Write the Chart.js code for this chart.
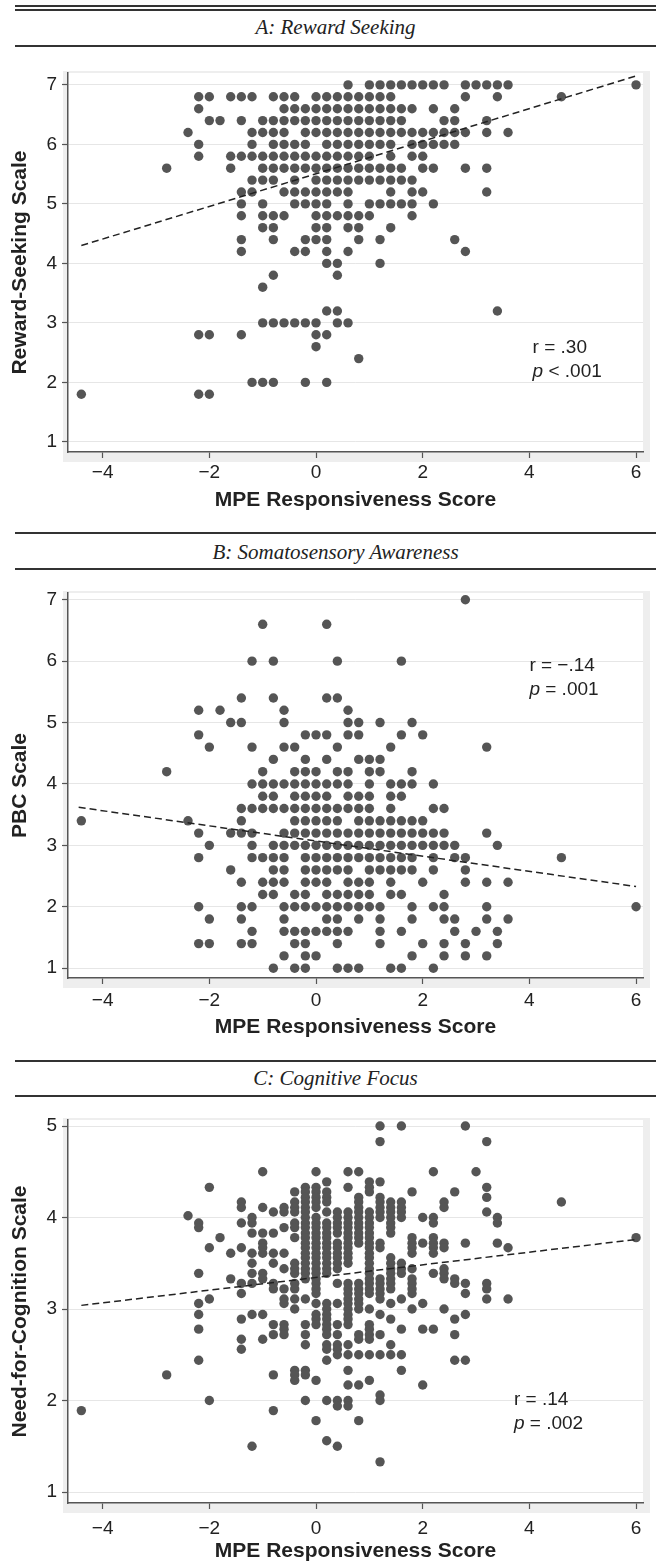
<!DOCTYPE html>
<html>
<head>
<meta charset="utf-8">
<script src="https://cdn.jsdelivr.net/npm/chart.js@4/dist/chart.umd.min.js"></script>
<style>
  body { margin: 0; background: #fff; }
  #page { position: relative; width: 656px; height: 1564px; overflow: hidden; background: #fff; }
  .rule { position: absolute; left: 15px; right: 0; height: 2px; background: #333; }
  .title { position: absolute; left: 15px; right: 0; height: 24px; line-height: 24px; text-align: center;
           font: italic 21px 'Liberation Serif', 'Times New Roman', serif; color: #222; }
  canvas { position: absolute; left: 0; }
</style>
</head>
<body>
<div id="page">
  <div class="rule" style="top:5px"></div>
  <div class="rule" style="top:9px"></div>
  <div class="title" style="top:15px">A: Reward Seeking</div>
  <div class="rule" style="top:45px"></div>
  <canvas id="chartA" width="656" height="463" style="top:50px"></canvas>

  <div class="rule" style="top:532px"></div>
  <div class="title" style="top:540px">B: Somatosensory Awareness</div>
  <div class="rule" style="top:568px"></div>
  <canvas id="chartB" width="656" height="465" style="top:575px"></canvas>

  <div class="rule" style="top:1060px"></div>
  <div class="title" style="top:1066px">C: Cognitive Focus</div>
  <div class="rule" style="top:1095px"></div>
  <canvas id="chartC" width="656" height="464" style="top:1100px"></canvas>
</div>
<script>
const xTicks = [-4, -2, 0, 2, 4, 6];

// A: reward seeking, one list of MPE scores per scale level
const rewardLevels = [7.0, 6.8, 6.6, 6.4, 6.2, 6.0, 5.8, 5.6, 5.4, 5.2, 5.0, 4.8, 4.6, 4.4, 4.2, 4.0, 3.8, 3.6, 3.2, 3.0, 2.8, 2.6, 2.4, 2.0, 1.8];
const rewardX = [
  [0.6, 1.0, 1.2, 1.4, 1.6, 1.8, 2.0, 2.2, 2.4, 2.8, 3.0, 3.2, 3.4, 3.6, 6.0],
  [-2.2, -2.0, -1.6, -1.4, -1.2, -0.8, -0.6, -0.4, 0.0, 0.2, 0.4, 0.6, 0.8, 1.0, 1.2, 1.4, 2.8, 3.4, 4.6],
  [-2.2, -0.6, -0.4, -0.2, 0.0, 0.2, 0.4, 0.6, 0.8, 1.0, 1.2, 1.4, 1.6, 1.8, 2.2, 2.6],
  [-2.0, -1.8, -1.4, -1.0, -0.8, -0.6, -0.4, -0.2, 0.0, 0.2, 0.4, 0.6, 0.8, 1.0, 1.2, 1.4, 1.6, 2.4, 2.6, 3.2],
  [-2.4, -1.2, -1.0, -0.8, -0.6, -0.2, 0.0, 0.2, 0.4, 0.6, 0.8, 1.0, 1.2, 1.4, 1.6, 1.8, 2.0, 2.2, 2.4, 2.6, 2.8, 3.2, 3.6],
  [-2.2, -1.2, -0.8, -0.6, -0.4, -0.2, 0.2, 0.4, 0.6, 0.8, 1.0, 1.2, 1.4, 1.8, 2.0, 2.2, 2.4, 2.6],
  [-2.2, -1.6, -1.4, -1.2, -1.0, -0.8, -0.6, -0.4, -0.2, 0.0, 0.2, 0.4, 0.6, 0.8, 1.0, 1.4, 1.8, 2.0],
  [-2.8, -1.6, -1.0, -0.8, -0.6, -0.4, -0.2, 0.0, 0.2, 0.4, 0.6, 0.8, 1.0, 1.2, 1.4, 1.6, 2.0, 2.2, 2.8, 3.2],
  [-1.2, -1.0, -0.8, -0.4, 0.0, 0.2, 0.4, 0.6, 0.8, 1.0, 1.2, 1.4, 1.6, 1.8],
  [-1.4, -1.2, -0.6, -0.4, -0.2, 0.0, 0.2, 0.4, 0.6, 1.4, 1.8, 2.0, 3.2],
  [-1.4, -1.0, -0.4, -0.2, 0.0, 0.2, 0.6, 1.0, 1.2, 1.4, 1.6, 1.8, 2.2],
  [-1.4, -1.0, -0.8, -0.6, 0.0, 0.2, 0.4, 0.6, 0.8, 1.0, 1.8],
  [-1.0, -0.8, 0.0, 0.2, 0.6, 0.8, 1.4],
  [-1.4, -0.8, -0.2, 0.0, 0.2, 0.8, 1.2, 2.6],
  [-1.4, -0.4, -0.2, 0.2, 0.6, 2.8],
  [0.2, 0.4, 1.2],
  [-0.8, 0.4],
  [-1.0],
  [0.2, 0.4, 3.4],
  [-1.0, -0.8, -0.6, -0.4, -0.2, 0.0, 0.4, 0.6],
  [-2.2, -2.0, -1.4, 0.0, 0.2],
  [0.0],
  [0.8],
  [-1.2, -1.0, -0.8, -0.2, 0.2],
  [-4.4, -2.2, -2.0]
];
const rewardFitX = [-4.4, 6.0];
const rewardFitY = [4.30, 7.15];
const rewardTicks = [1, 2, 3, 4, 5, 6, 7];

// B: PBC scale
const pbcLevels = [7.0, 6.6, 6.0, 5.4, 5.2, 5.0, 4.8, 4.6, 4.4, 4.2, 4.0, 3.8, 3.6, 3.4, 3.2, 3.0, 2.8, 2.6, 2.4, 2.2, 2.0, 1.8, 1.6, 1.4, 1.2, 1.0];
const pbcX = [
  [2.8],
  [-1.0, 0.2],
  [-1.2, -0.8, 0.4, 1.6],
  [-1.4, -0.8, 0.2, 0.4],
  [-2.2, -1.8, -0.6, 0.6],
  [-1.6, -1.4, -0.6, 0.6, 0.8, 1.2, 1.8],
  [-2.2, -0.2, 0.0, 0.2, 0.6, 0.8, 1.6, 2.0],
  [-2.0, -1.2, -0.6, -0.4, 0.4, 1.4, 3.2],
  [-0.8, -0.2, 0.2, 0.8, 1.0, 1.2],
  [-2.8, -1.0, -0.4, -0.2, 0.0, 0.4, 0.6, 1.0, 1.2, 1.8],
  [-1.2, -1.0, -0.8, -0.6, -0.4, -0.2, 0.0, 0.2, 0.4, 0.6, 1.0, 1.4, 1.6, 1.8, 2.2],
  [-1.0, -0.8, -0.4, -0.2, 0.0, 0.2, 0.6, 0.8, 1.0, 1.4, 1.6],
  [-1.4, -1.2, -1.0, -0.8, -0.6, -0.4, -0.2, 0.0, 0.2, 0.4, 0.6, 0.8, 1.0, 1.4, 2.2, 2.4],
  [-4.4, -2.4, -1.4, -0.4, -0.2, 0.0, 0.2, 0.4, 0.8, 1.0, 1.2, 1.4, 1.6, 1.8, 2.0],
  [-2.2, -1.6, -1.4, -1.2, -0.6, -0.4, -0.2, 0.0, 0.2, 0.4, 0.6, 0.8, 1.0, 1.2, 1.4, 1.6, 1.8, 2.0, 2.2, 2.4, 3.2],
  [-2.0, -1.2, -0.8, -0.6, -0.4, -0.2, 0.0, 0.2, 0.4, 0.6, 0.8, 1.0, 1.2, 1.4, 1.6, 1.8, 2.0, 2.2, 2.4, 2.6, 3.4],
  [-2.2, -1.2, -1.0, -0.8, -0.6, -0.2, 0.0, 0.2, 0.4, 0.6, 0.8, 1.0, 1.2, 1.4, 1.6, 1.8, 2.2, 2.6, 2.8, 4.6],
  [-1.6, -0.8, -0.6, -0.2, 0.0, 0.2, 0.4, 0.6, 1.0, 1.2, 1.4, 1.6, 1.8, 2.2, 2.8],
  [-1.4, -1.0, -0.8, -0.6, -0.2, 0.0, 0.2, 0.6, 0.8, 1.0, 1.4, 2.0, 2.8, 3.2, 3.6],
  [-1.0, -0.8, -0.4, -0.2, 0.2, 0.4, 0.6, 0.8, 1.0, 1.4, 1.6, 2.4],
  [-2.2, -1.4, -1.2, -0.6, -0.4, -0.2, 0.0, 0.2, 0.4, 0.6, 0.8, 1.0, 1.2, 1.8, 2.2, 2.4, 3.2, 6.0],
  [-2.0, -1.4, -0.6, 0.2, 0.4, 0.8, 1.2, 1.8, 2.4, 2.6, 3.2, 3.6],
  [-1.2, -0.6, -0.4, -0.2, 0.0, 0.2, 0.4, 0.6, 1.2, 1.6, 2.6, 3.0, 3.4],
  [-2.2, -2.0, -1.4, -1.2, -0.4, -0.2, 0.4, 1.2, 2.0, 2.4, 2.8, 3.4],
  [-0.6, -0.2, 0.0, 1.8, 2.4, 2.8, 3.2],
  [-0.8, -0.4, -0.2, 0.4, 0.6, 0.8, 1.4, 1.6, 2.2]
];
const pbcFitX = [-4.45, 6.0];
const pbcFitY = [3.62, 2.33];
const pbcTicks = [1, 2, 3, 4, 5, 6, 7];

// C: need for cognition, one list of scale scores per MPE column
const cogX = [-4.4, -2.8, -2.4, -2.2, -2.0, -1.8, -1.6, -1.4, -1.2, -1.0, -0.8, -0.6, -0.4, -0.2, 0.0, 0.2, 0.4, 0.6, 0.8,
              1.0, 1.2, 1.4, 1.6, 1.8, 2.0, 2.2, 2.4, 2.6, 2.8, 3.0, 3.2, 3.4, 3.6, 4.6, 6.0];
const cogY = [
  [1.89],
  [2.28],
  [4.02],
  [3.94, 3.89, 3.39, 3.06, 2.94, 2.78, 2.44],
  [4.33, 3.67, 3.11, 2.0],
  [3.78],
  [3.61, 3.33],
  [4.17, 4.11, 3.94, 3.67, 3.28, 3.17, 2.89, 2.67, 2.56],
  [4.0, 3.94, 3.83, 3.61, 3.5, 3.39, 3.28, 2.94, 1.5],
  [4.5, 4.11, 3.83, 3.72, 3.67, 3.61, 3.39, 3.33, 2.94, 2.67],
  [4.06, 3.83, 3.61, 3.5, 3.28, 3.22, 2.83, 2.72, 2.28, 1.89],
  [4.11, 4.06, 3.89, 3.61, 3.44, 3.22, 3.11, 3.06, 2.83, 2.78, 2.72],
  [4.28, 4.17, 4.11, 4.06, 3.94, 3.89, 3.78, 3.5, 3.44, 3.39, 3.28, 3.22, 3.11, 3.0, 2.33, 2.28, 2.22],
  [4.33, 4.28, 4.22, 4.17, 4.11, 4.06, 4.0, 3.94, 3.89, 3.83, 3.78, 3.72, 3.67, 3.61, 3.56, 3.5, 3.44, 3.39, 3.33, 3.11, 2.83, 2.72, 2.61, 2.33, 2.28, 2.0],
  [4.5, 4.33, 4.28, 4.22, 4.17, 4.11, 4.0, 3.94, 3.89, 3.83, 3.78, 3.72, 3.67, 3.61, 3.56, 3.5, 3.44, 3.39, 3.33, 3.28, 3.22, 3.17, 3.06, 2.94, 2.89, 2.83, 2.22, 1.78],
  [4.39, 4.28, 4.22, 4.17, 4.06, 3.94, 3.89, 3.83, 3.78, 3.72, 3.67, 3.61, 3.56, 3.5, 3.44, 3.39, 3.06, 3.0, 2.94, 2.89, 2.83, 2.78, 2.72, 2.61, 2.56, 2.44, 2.0, 1.56],
  [4.06, 4.0, 3.94, 3.89, 3.83, 3.72, 3.67, 3.61, 3.56, 3.5, 3.44, 3.28, 3.06, 2.83, 2.72, 2.61, 2.56, 2.5, 2.0, 1.94, 1.5],
  [4.5, 4.33, 4.06, 4.0, 3.94, 3.89, 3.83, 3.78, 3.72, 3.67, 3.61, 3.56, 3.5, 3.28, 3.22, 3.17, 3.11, 3.06, 3.0, 2.94, 2.89, 2.83, 2.61, 2.5, 2.33, 2.17, 2.0, 1.94],
  [4.5, 4.22, 4.17, 4.11, 4.06, 4.0, 3.94, 3.89, 3.83, 3.78, 3.72, 3.28, 3.22, 3.17, 3.11, 3.06, 3.0, 2.72, 2.67, 2.5, 2.17, 1.78],
  [4.39, 4.33, 4.28, 4.06, 4.0, 3.94, 3.89, 3.83, 3.78, 3.72, 3.67, 3.61, 3.56, 3.5, 3.44, 3.39, 3.33, 3.28, 3.22, 3.17, 3.0, 2.83, 2.78, 2.72, 2.67, 2.5, 2.22],
  [5.0, 4.83, 4.39, 4.22, 4.17, 4.11, 4.06, 4.0, 3.72, 3.67, 3.33, 3.28, 3.22, 3.17, 3.11, 2.94, 2.72, 2.5, 2.06, 2.0, 1.33],
  [4.17, 4.11, 4.06, 4.0, 3.94, 3.89, 3.83, 3.56, 3.5, 3.44, 3.39, 3.33, 3.28, 3.22, 3.06, 2.89, 2.61, 2.5],
  [5.0, 4.17, 4.11, 4.06, 4.0, 3.5, 3.44, 3.39, 3.11, 2.78, 2.5, 2.33],
  [4.28, 3.78, 3.72, 3.67, 3.61, 3.44, 3.33, 3.28, 3.22, 3.17, 3.0],
  [4.0, 3.72, 3.06, 2.78, 2.17],
  [4.5, 4.0, 3.94, 3.78, 3.72, 3.67, 3.61, 3.39, 2.78],
  [4.17, 4.11, 3.72, 3.67, 3.44, 3.39, 3.33, 3.0],
  [4.28, 3.33, 3.28, 2.89, 2.72, 2.44],
  [5.0, 3.72, 3.28, 3.17, 2.94, 2.44],
  [4.5],
  [4.83, 4.33, 4.22, 4.06, 3.28, 3.22, 3.11],
  [4.0, 3.94, 3.72],
  [3.67, 3.11],
  [4.17],
  [3.78]
];
const cogFitX = [-4.4, 6.0];
const cogFitY = [3.04, 3.76];
const cogTicks = [1, 2, 3, 4, 5];

const FONT = "'Liberation Sans', Arial, Helvetica, sans-serif";
const INK = '#222';

function byRows(levels, xs) {
  return levels.flatMap((y, i) => xs[i].map(x => ({x: x, y: y})));
}
function byCols(xs, ys) {
  return xs.flatMap((x, i) => ys[i].map(y => ({x: x, y: y})));
}
function zip(xs, ys) {
  return xs.map((x, i) => ({x: x, y: ys[i]}));
}
function minus(v) {
  return v < 0 ? '\u2212' + Math.abs(v) : String(v);
}

// light grey frame round the white plot area, as in the original graphs
const plotFrame = {
  id: 'plotFrame',
  beforeDraw(chart) {
    const {ctx, chartArea: a} = chart;
    ctx.save();
    ctx.fillStyle = '#eeeeee';
    ctx.fillRect(a.left - 5, a.top - 2, a.right - a.left + 12, a.bottom - a.top + 12);
    ctx.fillStyle = '#ffffff';
    ctx.fillRect(a.left, a.top, a.right - a.left, a.bottom - a.top);
    ctx.restore();
  }
};

// "r = ..." and "p ..." lines, p in italics
const corrNote = {
  id: 'corrNote',
  afterDatasetsDraw(chart, args, opts) {
    const {ctx, scales} = chart;
    const left = scales.x.getPixelForValue(opts.at[0]);
    const top = scales.y.getPixelForValue(opts.at[1]);
    ctx.save();
    ctx.fillStyle = INK;
    ctx.textBaseline = 'middle';
    ctx.textAlign = 'left';
    ctx.font = '19px ' + FONT;
    ctx.fillText(opts.r, left, top);
    ctx.font = 'italic 19px ' + FONT;
    ctx.fillText('p', left, top + 24);
    const w = ctx.measureText('p').width;
    ctx.font = '19px ' + FONT;
    ctx.fillText(opts.p, left + w, top + 24);
    ctx.restore();
  }
};

function makeChart(id, cfg) {
  return new Chart(document.getElementById(id), {
    type: 'scatter',
    data: {
      datasets: [
        {
          type: 'line',
          data: cfg.fit,
          borderColor: '#222',
          borderWidth: 1.5,
          borderDash: [7, 4],
          pointRadius: 0,
          fill: false,
          order: 0
        },
        {
          data: cfg.points,
          backgroundColor: '#555555',
          borderWidth: 0,
          pointRadius: 4.7,
          order: 1
        }
      ]
    },
    options: {
      responsive: false,
      animation: false,
      events: [],
      layout: { padding: { top: cfg.padTop, right: 13, left: 0, bottom: 0 } },
      plugins: {
        legend: { display: false },
        tooltip: { enabled: false },
        corrNote: cfg.note
      },
      scales: {
        x: {
          type: 'linear',
          min: -4.65,
          max: 6.13,
          afterBuildTicks: s => { s.ticks = xTicks.map(v => ({value: v})); },
          afterFit: s => { s.height = cfg.xAxisH; },
          grid: { drawOnChartArea: false, tickLength: 6, tickColor: '#555', tickWidth: 1.2 },
          border: { color: '#555', width: 1.5 },
          ticks: { padding: cfg.tickPad, color: INK, font: { family: FONT, size: 19 }, callback: minus, maxRotation: 0 },
          title: { display: true, text: 'MPE Responsiveness Score', color: INK, padding: 0,
                   font: { family: FONT, size: 21, weight: 'bold' } }
        },
        y: {
          type: 'linear',
          min: cfg.yMin,
          max: cfg.yMax,
          afterBuildTicks: s => { s.ticks = cfg.yTicks.map(v => ({value: v})); },
          afterFit: s => { s.width = 68; },
          grid: { color: '#e6e6e6', lineWidth: 1, tickLength: 6, tickColor: '#555', tickWidth: 1.2 },
          border: { color: '#555', width: 1.5 },
          ticks: { padding: 5, color: INK, font: { family: FONT, size: 19 }, callback: minus },
          title: { display: true, text: cfg.yTitle, color: INK, padding: { top: 8, bottom: 0 },
                   font: { family: FONT, size: 21, weight: 'bold' } }
        }
      }
    },
    plugins: [plotFrame, corrNote]
  });
}

makeChart('chartA', {
  points: byRows(rewardLevels, rewardX),
  fit: zip(rewardFitX, rewardFitY),
  yTicks: rewardTicks, yMin: 0.83, yMax: 7.2,
  yTitle: 'Reward-Seeking Scale',
  padTop: 23, xAxisH: 61, tickPad: 3,
  note: { at: [4.06, 2.58], r: 'r = .30', p: ' < .001' }
});

makeChart('chartB', {
  points: byRows(pbcLevels, pbcX),
  fit: zip(pbcFitX, pbcFitY),
  yTicks: pbcTicks, yMin: 0.84, yMax: 7.11,
  yTitle: 'PBC Scale',
  padTop: 18, xAxisH: 62, tickPad: 5,
  note: { at: [4.0, 5.93], r: 'r = \u2212.14', p: ' = .001' }
});

makeChart('chartC', {
  points: byCols(cogX, cogY),
  fit: zip(cogFitX, cogFitY),
  yTicks: cogTicks, yMin: 0.88, yMax: 5.066,
  yTitle: 'Need-for-Cognition Scale',
  padTop: 20, xAxisH: 61, tickPad: 8,
  note: { at: [3.71, 2.01], r: 'r = .14', p: ' = .002' }
});
</script>
</body>
</html>
